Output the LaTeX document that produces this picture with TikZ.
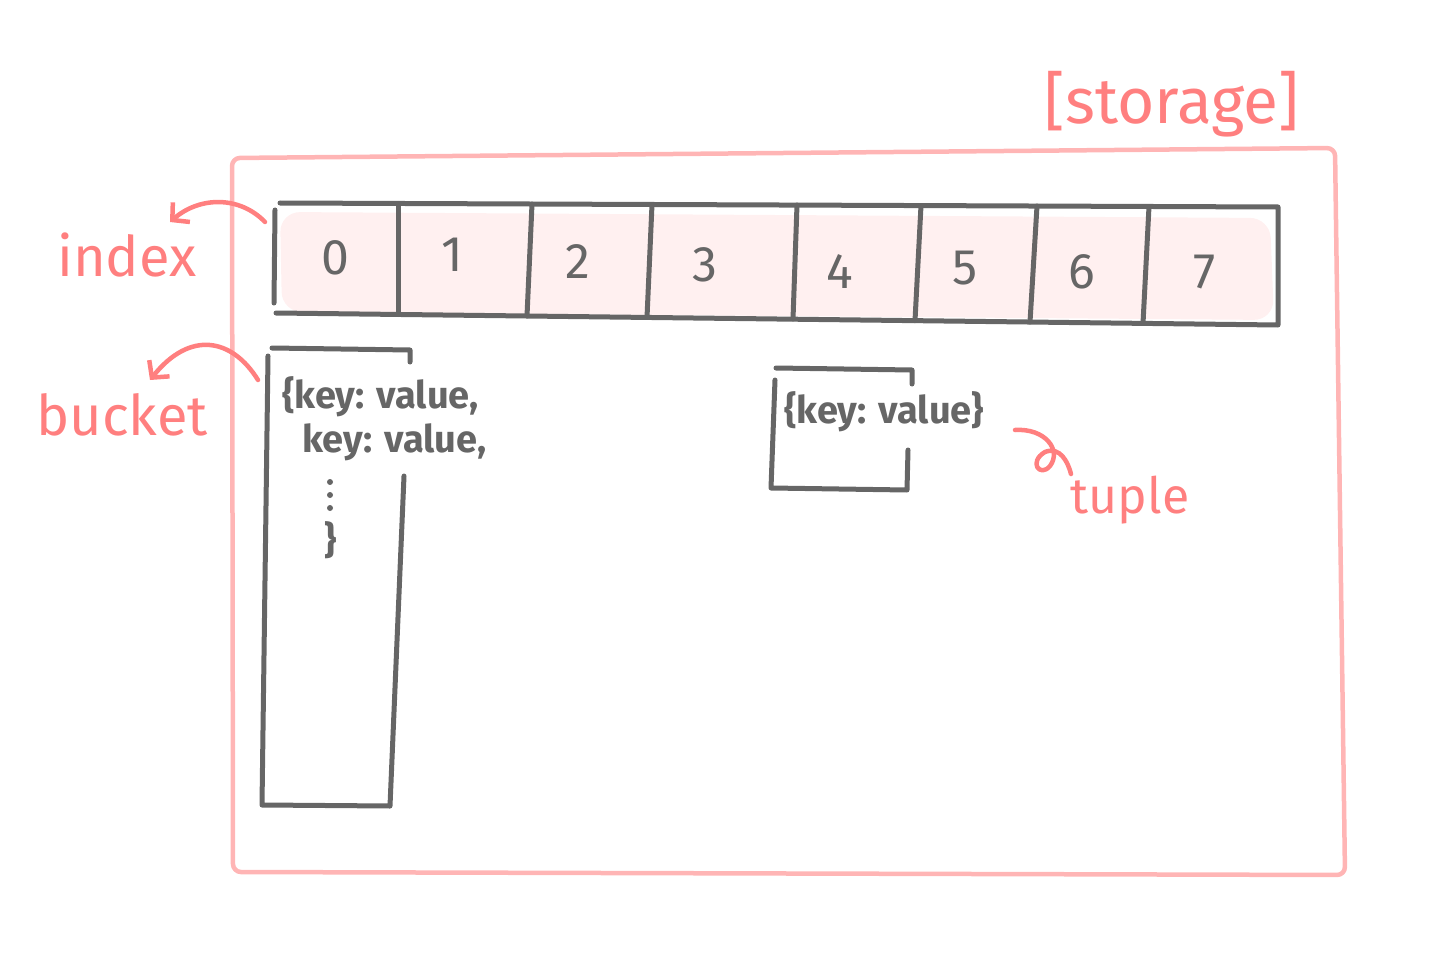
\documentclass[tikz,border=0pt]{standalone}
\usepackage{fontspec}
\setmainfont{Fira Sans}
\usetikzlibrary{arrows.meta}
\definecolor{pinktxt}{HTML}{FF7F7F}
\definecolor{pinkbox}{HTML}{FFB5B5}
\definecolor{ink}{HTML}{666666}
\definecolor{cellfill}{HTML}{FFF0F0}
\begin{document}
\begin{tikzpicture}[x=1pt,y=-1pt, line cap=round, line join=round,
  inkline/.style={draw=ink, line width=5pt},
  storageline/.style={draw=pinkbox, line width=4.5pt},
  note/.style={text=pinktxt, font=\fontsize{56}{58}\selectfont, inner sep=0pt},
  digit/.style={text=ink, font=\fontsize{50}{50}\selectfont, inner sep=0pt},
  code/.style={text=ink, font=\fontsize{38}{40}\selectfont\bfseries, inner sep=0pt},
  pointer/.style={draw=pinktxt, line width=4.5pt, -{Straight Barb[length=12pt,width=26pt,line width=4.5pt]}},
  curl/.style={draw=pinktxt, line width=4.5pt}]

\useasboundingbox (0,0) rectangle (1451,960);

% storage box
\draw[storageline, rounded corners=8pt] (232,158) -- (1335,148) -- (1345,875) -- (233,872) -- cycle;
\node[note, font=\fontsize{64}{66}\selectfont] (storage) at (1172,104) {[storage]};

% index array
\fill[cellfill, rounded corners=20pt] (280,212) -- (1270,218) -- (1274,320) -- (282,312) -- cycle;
\draw[inkline] (280,203) -- (1278,207) -- (1278,325) -- (276,313);
\draw[inkline] (275,210) -- (274,303);
\foreach \xt/\yt/\xb/\yb in {398/203.5/398/314.5, 532/204/527/316, 652/204.5/647/317.5,
  797/205/793/319, 921/205.5/915/320.7, 1037/206/1030/322, 1149/206.5/1143/323.4}
  \draw[inkline] (\xt,\yt) -- (\xb,\yb);

\node[digit] (d0) at (335,258) {0};
\node[digit] (d1) at (452,255) {1};
\node[digit] (d2) at (578,262) {2};
\node[digit] (d3) at (705,265) {3};
\node[digit] (d4) at (840,272) {4};
\node[digit] (d5) at (965,268) {5};
\node[digit] (d6) at (1082,272) {6};
\node[digit] (d7) at (1205,272) {7};

% index label
\node[note] (index) at (127,255) {index};
\coordinate (idxfrom) at (265,222);
\coordinate (idxto) at (170,222);
\draw[pointer] (idxfrom) .. controls (240,196) and (200,196) .. (idxto);

% bucket
\draw[inkline] (272,348) -- (410,350) -- (410,362);
\draw[inkline] (268,356) -- (262,805) -- (390,806) -- (404,476);
\node[code, anchor=west] (b1) at (282,397) {\{key: value,};
\node[code, anchor=west] (b2) at (302,442) {key: value,};
\fill[ink] (330,482) circle (3pt) (330,495) circle (3pt) (330,508) circle (3pt);
\node[code] (b3) at (331,540) {\}};

\node[note] (bucket) at (122,415) {bucket};
\coordinate (bktfrom) at (258,380);
\coordinate (bktto) at (150,380);
\draw[pointer] (bktfrom) .. controls (232,338) and (190,330) .. (bktto);

% tuple
\draw[inkline] (776,368) -- (912,370) -- (912,384);
\draw[inkline] (775,380) -- (771,488) -- (907,490) -- (908,450);
\node[code, anchor=west] (t1) at (784,412) {\{key: value\}};

\node[note, font=\fontsize{50}{52}\selectfont] (tuple) at (1130,500) {tuple};
\coordinate (tplfrom) at (1015,430);
\coordinate (tplto) at (1071,474);
\draw[curl] (tplfrom) .. controls (1045,428) and (1062,450) .. (1050,466)
  .. controls (1040,478) and (1028,462) .. (1045,452)
  .. controls (1060,446) and (1068,462) .. (tplto);
\end{tikzpicture}
\end{document}
